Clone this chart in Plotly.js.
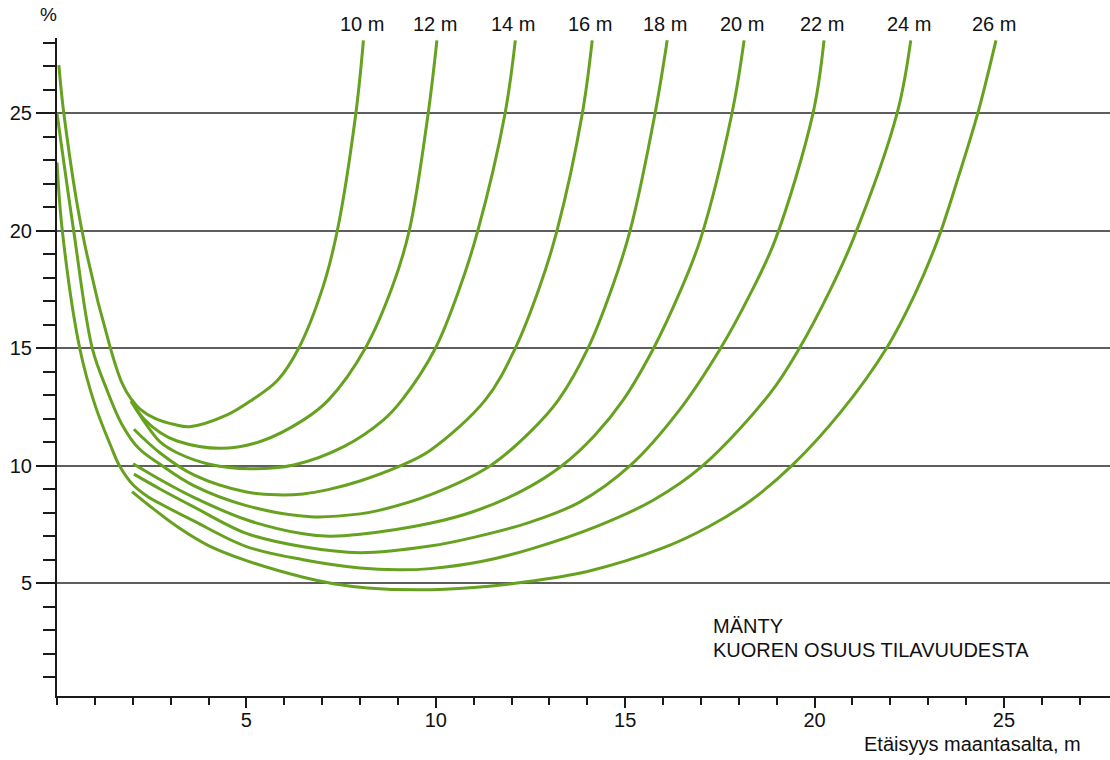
<!DOCTYPE html>
<html>
<head>
<meta charset="utf-8">
<script src="https://cdn.plot.ly/plotly-3.0.1.min.js"></script>
<style>
  html, body { margin: 0; padding: 0; background: #ffffff; }
  #chart { width: 1110px; height: 760px; }
</style>
</head>
<body>
<div id="chart"></div>
<script>
// Curve labels (tree height)
const heights = ['10 m', '12 m', '14 m', '16 m', '18 m', '20 m', '22 m', '24 m', '26 m'];

// Distance from ground (m) and bark share of volume (%) for each tree height
const x10 = [0.05, 0.18, 0.66, 1.41, 1.72, 1.95, 2.2, 2.6, 3.1, 3.5, 4.49, 5.15, 5.83, 6.38, 7.02, 7.4, 7.89, 8.09];
const y10 = [27.05, 25, 20, 15, 13.5, 12.85, 12.4, 12.0, 11.75, 11.66, 12.16, 12.8, 13.65, 15, 17.6, 20, 25, 28.1];

const x12 = [1.95, 2.29, 2.73, 3.17, 4.31, 5.37, 6.51, 7.17, 8.14, 8.85, 9.3, 9.8, 10.03];
const y12 = [12.75, 12.0, 11.4, 11.05, 10.74, 11.03, 11.95, 12.8, 15, 17.6, 20, 25, 28.1];

const x14 = [2.05, 2.4, 2.73, 3.17, 4.05, 5.1, 6.25, 7.57, 8.62, 9.11, 9.99, 10.64, 11.11, 11.83, 12.1];
const y14 = [12.5, 11.65, 11.0, 10.55, 10.05, 9.87, 10.03, 10.81, 11.95, 12.8, 15, 17.6, 20, 25, 28.1];

const x16 = [2.03, 2.73, 3.61, 5.0, 5.81, 6.5, 7.13, 8.0, 9.06, 9.85, 11.31, 12.1, 12.74, 13.2, 13.87, 14.13];
const y16 = [11.55, 10.53, 9.61, 8.88, 8.76, 8.8, 8.97, 9.35, 9.99, 10.65, 12.8, 15, 17.6, 20, 25, 28.1];

const x18 = [0, 0.44, 0.93, 1.3, 1.7, 2.15, 2.73, 3.61, 5.0, 6.7, 8.0, 8.5, 9.85, 11.44, 12.5, 13.24, 14.02, 14.66, 15.13, 15.79, 16.11];
const y18 = [25, 20, 15, 13.3, 11.8, 10.75, 10.05, 9.15, 8.3, 7.83, 7.95, 8.1, 8.76, 10, 11.45, 12.8, 15, 17.6, 20, 25, 28.1];

const x20 = [2.01, 2.73, 3.61, 5.0, 6.5, 7.2, 8.0, 9.85, 11.0, 12.3, 13.33, 14.2, 14.95, 15.75, 16.42, 16.98, 17.82, 18.14];
const y20 = [10.08, 9.4, 8.65, 7.7, 7.1, 7.0, 7.08, 7.55, 8.05, 8.95, 10, 11.3, 12.8, 15, 17.3, 19.6, 25, 28.1];

const x22 = [2.03, 2.73, 3.61, 5.0, 6.5, 8.0, 9.85, 11.0, 12.5, 13.8, 15.13, 16.4, 17.52, 18.3, 18.96, 19.96, 20.25];
const y22 = [9.64, 9.0, 8.25, 7.12, 6.55, 6.3, 6.58, 6.95, 7.6, 8.45, 10, 12.3, 15, 17.3, 19.6, 25, 28.1];

const x24 = [0, 0.14, 0.6, 1.0, 1.41, 1.65, 2.0, 2.4, 2.73, 3.61, 5.0, 6.5, 8.0, 9.0, 9.85, 11.2, 12.5, 14.3, 15.75, 17.05, 18.83, 19.6, 20.36, 21.01, 22.18, 22.54];
const y24 = [22.9, 20, 15, 12.6, 10.88, 10, 9.2, 8.68, 8.38, 7.65, 6.56, 6.0, 5.65, 5.57, 5.62, 5.92, 6.45, 7.45, 8.54, 10, 13.09, 15, 17.3, 19.6, 25, 28.1];

const x26 = [1.98, 2.4, 3.17, 4.0, 5.0, 6.5, 7.3, 8.2, 9.6, 11.0, 12.2, 14.0, 16.0, 17.2, 18.3, 19.4, 20.7, 21.9, 22.65, 23.25, 23.8, 24.31, 24.79];
const y26 = [8.9, 8.35, 7.41, 6.6, 5.96, 5.25, 4.98, 4.8, 4.72, 4.82, 5.02, 5.5, 6.5, 7.4, 8.5, 10, 12.3, 15, 17.3, 19.6, 22.3, 25, 28.1];

// Axis tick labels
const xTickVals = [5, 10, 15, 20, 25];
const yTickVals = [5, 10, 15, 20, 25];

// Text
const yUnit = '%';
const xTitle = 'Etäisyys maantasalta, m';
const noteLine1 = 'MÄNTY';
const noteLine2 = 'KUOREN OSUUS TILAVUUDESTA';

const seriesX = [x10, x12, x14, x16, x18, x20, x22, x24, x26];
const seriesY = [y10, y12, y14, y16, y18, y20, y22, y24, y26];

const FONT = '"Liberation Sans", Arial, Helvetica, sans-serif';
const LINE_COLOR = '#66a220';
const AX_COLOR = '#1a1a1a';

const traces = seriesX.map((xs, i) => ({
  type: 'scatter',
  mode: 'lines',
  name: heights[i],
  x: xs,
  y: seriesY[i],
  line: { color: LINE_COLOR, width: 3, shape: 'spline', smoothing: 1.0 },
  hoverinfo: 'skip'
}));

const annotations = [];
seriesX.forEach((xs, i) => {
  annotations.push({
    text: heights[i], xref: 'x', yref: 'paper',
    x: xs[xs.length - 1] - 0.05, y: 1.0213,
    xanchor: 'center', yanchor: 'middle', showarrow: false,
    font: { family: FONT, size: 20, color: '#111' }
  });
});
annotations.push({
  text: yUnit, xref: 'paper', yref: 'paper', x: -0.0085, y: 1.035,
  xanchor: 'center', yanchor: 'middle', showarrow: false,
  font: { family: FONT, size: 19, color: '#111' }
});
annotations.push({
  text: noteLine1, xref: 'paper', yref: 'paper', x: 0.6215, y: 0.1070,
  xanchor: 'left', yanchor: 'middle', showarrow: false,
  font: { family: FONT, size: 20, color: '#111' }
});
annotations.push({
  text: noteLine2, xref: 'paper', yref: 'paper', x: 0.6215, y: 0.0700,
  xanchor: 'left', yanchor: 'middle', showarrow: false,
  font: { family: FONT, size: 20, color: '#111' }
});
annotations.push({
  text: xTitle, xref: 'paper', yref: 'paper', x: 0.9745, y: -0.0730,
  xanchor: 'right', yanchor: 'middle', showarrow: false,
  font: { family: FONT, size: 20, color: '#111' }
});

const layout = {
  width: 1110, height: 760,
  margin: { l: 57, r: 0, t: 38, b: 64, pad: 0, autoexpand: false },
  paper_bgcolor: '#ffffff', plot_bgcolor: '#ffffff',
  showlegend: false,
  hovermode: false,
  font: { family: FONT, size: 20, color: '#111' },
  xaxis: {
    range: [0, 27.8],
    showline: true, linecolor: AX_COLOR, linewidth: 2,
    zeroline: false, showgrid: false,
    tickmode: 'array', tickvals: xTickVals, ticktext: xTickVals.map(String),
    ticks: 'outside', ticklen: 10, tickwidth: 2, tickcolor: AX_COLOR,
    ticklabelstandoff: -5,
    tickfont: { family: FONT, size: 20, color: '#111' },
    minor: { tickmode: 'linear', tick0: 0, dtick: 1, ticks: 'outside', ticklen: 7, tickwidth: 2, tickcolor: AX_COLOR, showgrid: false },
    fixedrange: true
  },
  yaxis: {
    range: [0.2, 28.2],
    showline: true, linecolor: AX_COLOR, linewidth: 2,
    zeroline: false,
    showgrid: true, gridcolor: '#5e5e5e', gridwidth: 1.6,
    tickmode: 'array', tickvals: yTickVals, ticktext: yTickVals.map(String),
    ticks: 'outside', ticklen: 19, tickwidth: 2, tickcolor: AX_COLOR,
    tickfont: { family: FONT, size: 20, color: '#111' },
    minor: { tickmode: 'linear', tick0: 0, dtick: 1, ticks: 'outside', ticklen: 12, tickwidth: 2, tickcolor: AX_COLOR, showgrid: false },
    fixedrange: true
  },
  annotations: annotations
};

Plotly.newPlot('chart', traces, layout, { displayModeBar: false, staticPlot: true });
</script>
</body>
</html>
